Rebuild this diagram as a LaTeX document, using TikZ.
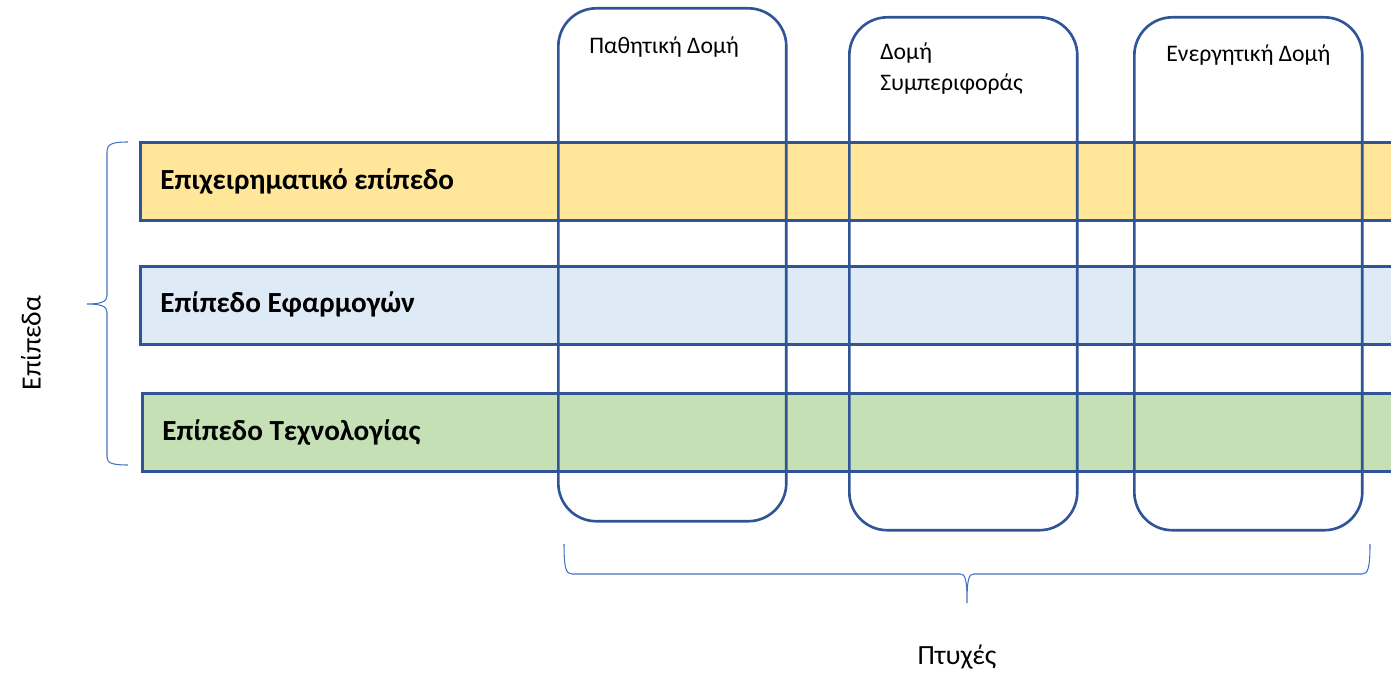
\documentclass[tikz,border=0pt]{standalone}
\usepackage{fontspec}
\setmainfont{Carlito}
\usetikzlibrary{positioning}
\definecolor{edgeblue}{HTML}{2F5597}
\definecolor{braceblue}{HTML}{4472C4}
\definecolor{bizfill}{HTML}{FFE699}
\definecolor{appfill}{HTML}{DEEBF7}
\definecolor{techfill}{HTML}{C5E0B4}

\begin{document}
\begin{tikzpicture}[
  x=0.02cm, y=-0.02cm,
  band/.style={draw=edgeblue, line width=1.5pt, anchor=north west, inner sep=0pt,
               minimum width=25.4cm, minimum height=1.56cm},
  bandlbl/.style={anchor=west, inner sep=0pt, font=\fontsize{16.6}{19}\selectfont\bfseries},
  aspect/.style={draw=edgeblue, line width=1.5pt, rounded corners=0.76cm, anchor=north west,
                 inner sep=0pt, minimum width=4.56cm, minimum height=10.26cm},
  aspectlbl/.style={anchor=north west, inner sep=0pt, align=left,
                    font=\fontsize{13.5}{18}\selectfont},
  brc/.style={draw=braceblue, line width=0.6pt},
  axislbl/.style={font=\fontsize{15.8}{18}\selectfont},
]
\useasboundingbox (0,0) rectangle (1391,672);
\clip (0,0) rectangle (1391,672);

% Layers
\node[band, fill=bizfill] (biz) at (139,141) {};
\node[band, fill=appfill] (app) at (139,265) {};
\node[band, fill=techfill] (tech) at (141,392) {};

\node[bandlbl] (bizlbl) at (160,182) {Επιχειρηματικό επίπεδο};
\node[bandlbl] (applbl) at (160,304) {Επίπεδο Εφαρμογών};
\node[bandlbl] (techlbl) at (162,433) {Επίπεδο Τεχνολογίας};

% Aspects
\node[aspect] (passive) at (557,7) {};
\node[aspect] (behav) at (848,16) {};
\node[aspect] (active) at (1133,16) {};

\node[aspectlbl] (passlbl) at (589,36) {Παθητική Δομή};
\node[aspectlbl] (behavlbl) at (880,42) {Δομή\\Συμπεριφοράς};
\node[aspectlbl] (actlbl) at (1166,44) {Ενεργητική Δομή};

% Braces
\draw[brc] (128,142) .. controls (112,142) and (107,144) .. (107,152) -- (107,296)
  .. controls (107,302) and (100,304) .. (87,304)
  .. controls (100,304) and (107,306) .. (107,312) -- (107,457)
  .. controls (107,463) and (112,465) .. (128,465);
\draw[brc] (564,544) .. controls (564,568) and (566,574) .. (572,574) -- (960,574)
  .. controls (965,574) and (967,578) .. (967,603)
  .. controls (967,578) and (969,574) .. (974,574) -- (1362,574)
  .. controls (1368,574) and (1370,568) .. (1370,544);

\node[axislbl, rotate=90] (layers) at (31,343) {Επίπεδα};
\node[axislbl] (aspects) at (957,657) {Πτυχές};

\end{tikzpicture}
\end{document}
